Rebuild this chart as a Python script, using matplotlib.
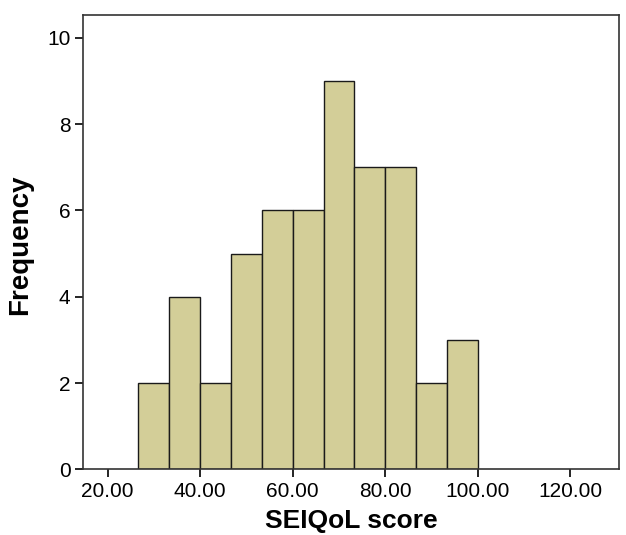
import matplotlib
matplotlib.use("Agg")
import matplotlib.pyplot as plt
import numpy as np

plt.rcParams['font.family'] = ['Liberation Sans', 'DejaVu Sans']

# histogram of SEIQoL scores: 11 bins of width 20/3 from 26.67 to 100
bin_edges = np.linspace(80 / 3, 100, 12)
counts = [2, 4, 2, 5, 6, 6, 9, 7, 7, 2, 3]

x_ticks = [20, 40, 60, 80, 100, 120]
y_ticks = [0, 2, 4, 6, 8, 10]

fig = plt.figure(figsize=(6.26, 5.35), dpi=100)
ax = fig.add_axes([0.1326, 0.1228, 0.9888 - 0.1326, 0.972 - 0.1228])

ax.bar(bin_edges[:-1], counts, width=np.diff(bin_edges), align='edge',
       color='#d3ce98', edgecolor='#1a1a1a', linewidth=1.0)

ax.set_xlim(14.7, 130.5)
ax.set_ylim(0, 10.53)
ax.set_xticks(x_ticks)
ax.set_xticklabels(['%.2f' % v for v in x_ticks])
ax.set_yticks(y_ticks)

ax.tick_params(direction='out', length=6, width=1.2, labelsize=15, pad=3)
for s in ax.spines.values():
    s.set_linewidth(1.2)
    s.set_color('#333333')

ax.set_xlabel('SEIQoL score', fontsize=19, fontweight='bold', labelpad=6)
ax.set_ylabel('Frequency', fontsize=20, fontweight='bold')
ax.yaxis.set_label_coords(-0.093, 0.495)

fig.savefig('out.png', dpi=100)
